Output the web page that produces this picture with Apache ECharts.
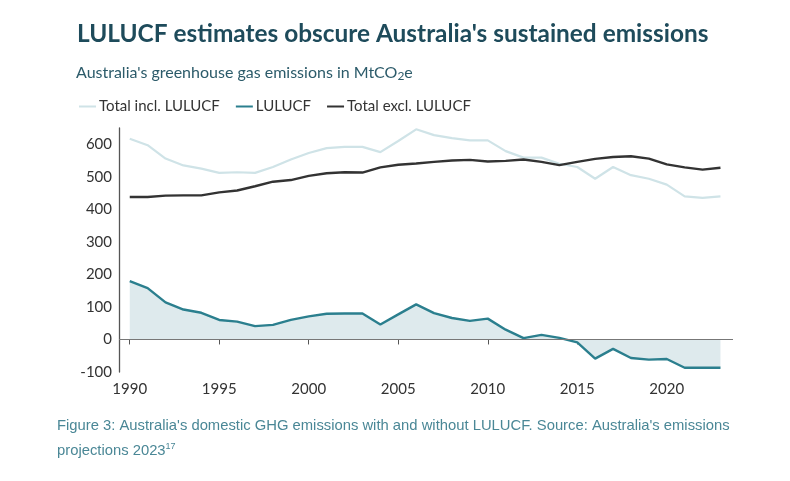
<!DOCTYPE html>
<html>
<head>
<meta charset="utf-8">
<script src="https://cdn.jsdelivr.net/npm/echarts@6/dist/echarts.min.js"></script>
<style>
  html, body { margin: 0; padding: 0; background: #fff; }
  #chart { width: 790px; height: 481px; }
</style>
</head>
<body>
<div id="chart"></div>
<script>
const years = []
for (let y = 1990; y <= 2023; y++) years.push(y)

const totalIncl = [617, 597, 556, 535, 525, 512, 514, 512, 530, 553, 573, 588, 592, 592, 576, 610, 646, 628,
  619, 612, 612, 579, 559, 559, 540, 530, 494, 530, 505, 494, 476, 440, 435, 440]
const lulucf = [179, 158, 114, 92, 82, 60, 55, 41, 45, 60, 71, 79, 80, 80, 46, 77, 108, 81,
  66, 57, 64, 30, 4, 14, 5, -9, -59, -29, -57, -62, -60, -87, -87, -87]
const totalExcl = [438, 438, 442, 443, 443, 452, 458, 471, 485, 490, 503, 511, 514, 513, 529, 537, 541, 546,
  550, 552, 547, 549, 553, 546, 536, 546, 555, 561, 563, 556, 538, 529, 522, 528]
const xTicks = [1990, 1995, 2000, 2005, 2010, 2015, 2020]

const pairs = (vals) => years.map((y, i) => [y, vals[i]])

const chart = echarts.init(document.getElementById('chart'))

chart.setOption({
  animation: false,
  textStyle: { fontFamily: 'Lato' },
  title: [
    {
      text: "LULUCF estimates obscure Australia's sustained emissions",
      left: 72, top: 17,
      textStyle: { fontSize: 24.4, fontWeight: 'bold', color: '#1e4b5b', fontFamily: 'Lato' }
    },
    {
      text: "{a|Australia's greenhouse gas emissions in MtCO}{s|2}{a|e}",
      left: 71, top: 58,
      textStyle: {
        fontWeight: 'normal',
        rich: {
          a: { fontSize: 16, color: '#2c5b6a', fontFamily: 'Lato', fontWeight: 'normal' },
          s: { fontSize: 12, color: '#2c5b6a', fontFamily: 'Lato', fontWeight: 'normal', padding: [7, 0, 0, 0] }
        }
      }
    }
  ],
  legend: {
    left: 74, top: 94,
    icon: 'rect', itemWidth: 17, itemHeight: 2, itemGap: 16,
    textStyle: { fontSize: 15, color: '#333', fontFamily: 'Lato', padding: [0, 0, 0, -2] },
    data: ['Total incl. LULUCF', 'LULUCF', 'Total excl. LULUCF']
  },
  graphic: [
    {
      type: 'text', left: 57, top: 418,
      style: {
        text: "Figure 3: Australia's domestic GHG emissions with and without LULUCF. Source: Australia's emissions",
        fontSize: 14.8, fill: '#4a8796', fontFamily: 'Liberation Sans'
      }
    },
    {
      type: 'text', left: 57, top: 442,
      style: {
        text: 'projections 2023{s|17}',
        fontSize: 14.8, fill: '#4a8796', fontFamily: 'Liberation Sans',
        rich: { s: { fontSize: 9, fill: '#4a8796', padding: [0, 0, 8, 0] } }
      }
    }
  ],
  grid: { left: 119, right: 57, top: 128, bottom: 109, containLabel: false },
  xAxis: {
    type: 'value', min: 1989.4, max: 2023.7,
    splitLine: { show: false },
    axisLine: { show: false },
    axisTick: { show: true, length: 5, customValues: xTicks, lineStyle: { color: '#555' } },
    axisLabel: {
      customValues: xTicks, fontSize: 15, color: '#333', margin: 10, fontFamily: 'Lato',
      formatter: (v) => String(v)
    }
  },
  yAxis: {
    type: 'value', min: -100, max: 650, interval: 100,
    splitLine: { show: false },
    axisTick: { show: false },
    axisLine: { show: true, lineStyle: { color: '#555', width: 1.3 } },
    axisLabel: { fontSize: 15, color: '#333', margin: 7, showMaxLabel: false, fontFamily: 'Lato' }
  },
  series: [
    {
      name: 'Total incl. LULUCF', type: 'line', data: pairs(totalIncl),
      showSymbol: false, lineStyle: { color: '#cfe3e7', width: 2.2 }, itemStyle: { color: '#cfe3e7' }
    },
    {
      name: 'LULUCF', type: 'line', data: pairs(lulucf),
      showSymbol: false, lineStyle: { color: '#2b7f8e', width: 2.4 }, itemStyle: { color: '#2b7f8e' },
      areaStyle: { color: '#deeaed', origin: 0, opacity: 1 },
      markLine: {
        silent: true, symbol: 'none', label: { show: false },
        lineStyle: { color: '#777', type: 'solid', width: 1.2 },
        data: [{ yAxis: 0 }]
      }
    },
    {
      name: 'Total excl. LULUCF', type: 'line', data: pairs(totalExcl),
      showSymbol: false, lineStyle: { color: '#333', width: 2.4 }, itemStyle: { color: '#333' }
    }
  ]
})
</script>
</body>
</html>
